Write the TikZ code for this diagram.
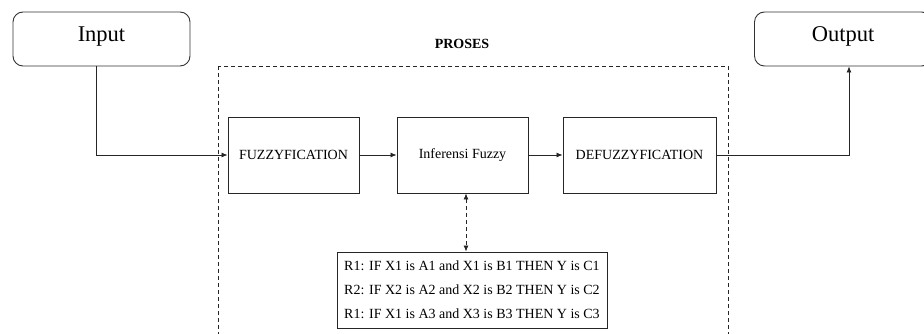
\documentclass[tikz,border=0pt]{standalone}
\usepackage{fontspec}
\setmainfont{Liberation Serif}
\usetikzlibrary{
		calc,
		positioning,
		arrows.meta
	}
\tikzset{
		>={Latex[length=6pt,width=5pt]},
		ioBox/.style={draw=black!80, line width=0.9pt, rounded corners=10pt, minimum width=177pt, minimum height=54pt, font=\fontsize{22.5}{26}\selectfont, text height=15pt, text depth=9pt},
		procBox/.style={draw=black!85, line width=0.9pt, minimum height=76pt, font=\fontsize{14}{16}\selectfont},
		flow/.style={->, line width=0.8pt, black!85}
	}

\begin{document}
\begin{tikzpicture}[x=1pt, y=-1pt]
		\useasboundingbox (0,0) rectangle (924,334);
		% in/out
		\node[ioBox] (input) at (101.5,39) {Input};
		\node[ioBox] (output) at (843,39) {Output};
		% process frame
		\draw[dashed, line width=0.8pt, dash pattern=on 4pt off 3pt, black!85] (218,66) rectangle (728,345);
		\node[font=\fontsize{14}{16}\selectfont\bfseries] (proses) at (462,44) {PROSES};
		% steps
		\node[procBox, minimum width=131pt] (fuzz) at (293.5,155) {FUZZYFICATION};
		\node[procBox, minimum width=131pt] (infer) at (462.5,155) {Inferensi Fuzzy};
		\node[procBox, minimum width=153pt] (defuzz) at (639.5,155) {DEFUZZYFICATION};
		\node[procBox, minimum width=270pt, minimum height=76pt, align=left, font=\fontsize{14}{24}\selectfont] (rules) at (472,290)
			{R1: IF X1 is A1 and X1 is B1 THEN Y is C1\\R2: IF X2 is A2 and X2 is B2 THEN Y is C2\\R1: IF X1 is A3 and X3 is B3 THEN Y is C3};
		% links
		\draw[flow] ([xshift=-5.5pt]input.south) |- (fuzz.west);
		\draw[flow] (fuzz) -- (infer);
		\draw[flow] (infer) -- (defuzz);
		\draw[flow] (defuzz.east) -| ([xshift=6pt]output.south);
		\draw[flow, <->, dashed, dash pattern=on 4pt off 3pt] ([xshift=3.5pt]infer.south) -- ([xshift=3.5pt]infer.south |- rules.north);
	\end{tikzpicture}
\end{document}
